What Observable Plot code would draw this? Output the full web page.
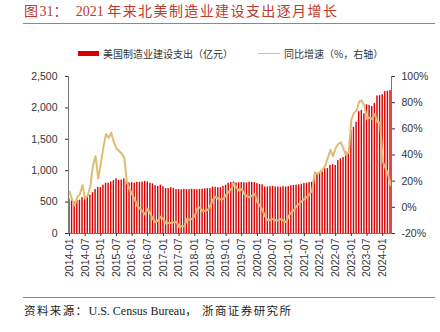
<!DOCTYPE html>
<html><head><meta charset="utf-8">
<script src="https://cdn.jsdelivr.net/npm/d3@7"></script>
<script src="https://cdn.jsdelivr.net/npm/@observablehq/plot@0.6"></script>
<style>
body{margin:0;width:440px;height:332px;position:relative;background:#fff;overflow:hidden;font-family:"Liberation Sans",Arial,sans-serif;}
#title{position:absolute;left:24px;top:1px;font-size:14px;line-height:18px;color:#c0392b;font-family:"Liberation Serif","Noto Sans CJK SC",serif;white-space:nowrap;}
.cjk{font-family:"Noto Sans CJK SC",sans-serif;letter-spacing:1.4px;}
.rule{position:absolute;left:23px;width:412px;height:0;border-top:1.5px solid #e06666;}
#legend{position:absolute;top:46px;left:0;width:440px;height:16px;font-family:"Noto Sans CJK SC",sans-serif;font-size:10px;color:#333;}
#legend .sw{position:absolute;}
#legend .tx{position:absolute;top:0;line-height:15px;white-space:nowrap;}
#chart{position:absolute;left:0;top:60px;}
#caption{position:absolute;left:24px;top:302px;font-size:12px;line-height:16px;color:#222;font-family:"Liberation Serif","Noto Sans CJK SC",serif;white-space:nowrap;}
#caption .c{font-family:"Noto Sans CJK SC",sans-serif;font-size:11.5px;letter-spacing:1.4px;}
</style></head>
<body>
<div id="title"><span class="cjk">图</span>31<span class="cjk">：</span>&nbsp;&nbsp;2021 <span class="cjk">年来北美制造业建设支出逐月增长</span></div>
<div class="rule" style="top:23px"></div>
<div id="legend">
  <div class="sw" style="left:78px;top:5px;width:21px;height:5px;background:#d40000"></div>
  <div class="tx" id="lg1" style="left:103px"></div>
  <div class="sw" style="left:258px;top:7px;width:22px;height:0;border-top:1.8px solid #e2bf78"></div>
  <div class="tx" id="lg2" style="left:284px"></div>
</div>
<div id="chart"></div>
<div class="rule" style="top:297px"></div>
<div id="caption"><span class="c">资料来源：</span>U.S. Census Bureau<span class="c">，&nbsp;浙商证券研究所</span></div>
<script>
const seriesNames = ["美国制造业建设支出（亿元）", "同比增速（%，右轴）"];
const startYear = 2014;
const spending = [
  550,520,500,525,530,570,575,590,610,650,700,735,
  730,770,800,800,820,840,870,845,850,870,830,805,
  810,800,815,815,820,830,820,800,790,760,750,770,
  745,715,715,730,720,700,700,695,705,700,700,705,
  700,698,700,705,710,714,715,740,735,730,730,750,
  770,800,810,818,805,808,810,808,805,818,815,810,
  795,780,775,740,740,745,750,740,740,735,745,740,
  745,760,765,770,775,785,795,800,810,815,870,950,
  965,980,1030,1035,1085,1095,1085,1160,1190,1210,1300,1280,
  1640,1690,1770,1940,1960,1905,2050,2040,2020,2070,2190,2195,
  2210,2260,2265,2275
];
const yoy = [
  12,6,1.5,8,10,17,6.5,9,16,32,39,22,
  33,46,56,53,57,50,45,43,41,38,19,14,
  10,6,1,-1,-3,-5.5,-1,-5,-9,-11.5,-10,-7,
  -9,-12.5,-12,-12,-11.5,-11,-15,-14.5,-14.5,-9,-9.5,-8.8,
  -6.5,-1,0,-3,-2.5,-2,1.4,6,8,6.5,6,6.5,
  9.5,12,14,18,15,12.8,14,10,8.5,7.7,9,10.3,
  4,1,-2.5,-7,-10,-9.5,-8.8,-10,-10,-9,-10,-11.4,
  -6.3,-4,-2,1,2.7,4.6,6.5,8,10,13,26.8,25.6,
  27,29,32,38,44,39,45.4,48.5,49.7,44.6,40,42,
  67,72,74,80.9,81.5,77.7,67.5,68.7,67.5,71.3,65,65,
  35,30.6,25.6,17
];
const xTickLabels = ["2014-01","2014-07","2015-01","2015-07","2016-01","2016-07","2017-01","2017-07","2018-01","2018-07","2019-01","2019-07","2020-01","2020-07","2021-01","2021-07","2022-01","2022-07","2023-01","2023-07","2024-01"];
const leftTicks = [0,500,1000,1500,2000,2500];
const rightTicks = [-20,0,20,40,60,80,100];

document.getElementById("lg1").textContent = seriesNames[0];
document.getElementById("lg2").textContent = seriesNames[1];

const months = spending.map((_, i) => {
  const y = startYear + Math.floor(i / 12), m = (i % 12) + 1;
  return `${y}-${String(m).padStart(2, "0")}`;
});
const data = months.map((m, i) => ({month: m, spend: spending[i], yoy: yoy[i]}));

const leftDomain = [leftTicks[0], leftTicks[leftTicks.length - 1]];
const rightDomain = [rightTicks[0], rightTicks[rightTicks.length - 1]];
const toLeft = p => leftDomain[0] + (p - rightDomain[0]) / (rightDomain[1] - rightDomain[0]) * (leftDomain[1] - leftDomain[0]);
const rightLabel = new Map(rightTicks.map(p => [toLeft(p), p + "%"]));

const chart = Plot.plot({
  width: 440, height: 235,
  marginLeft: 68, marginRight: 49, marginTop: 16, marginBottom: 62,
  x: {type: "band", domain: months, padding: 0.45, paddingOuter: 0.1, round: false, axis: null},
  y: {domain: leftDomain, axis: null},
  style: {fontFamily: "'Liberation Sans', Arial, sans-serif", fontSize: "10px", color: "#333", background: "transparent"},
  marks: [
    Plot.barY(data, {x: "month", y: "spend", fill: "#d80000"}),
    Plot.lineY(data, {x: "month", y: d => toLeft(d.yoy), stroke: "#e0bc72", strokeWidth: 2}),
    Plot.frame({anchor: "left", stroke: "#777"}),
    Plot.frame({anchor: "right", stroke: "#777"}),
    Plot.frame({anchor: "bottom", stroke: "#777"}),
    Plot.axisY({anchor: "left", ticks: leftTicks, tickFormat: d3.format(","), tickSize: 3, tickPadding: 8, label: null, fontSize: 10.5}),
    Plot.axisY({anchor: "right", ticks: rightTicks.map(toLeft), tickFormat: v => rightLabel.get(v), tickSize: 3, tickPadding: 7, label: null, fontSize: 10.5}),
    Plot.axisX({ticks: xTickLabels, tickRotate: -90, tickSize: 3, tickPadding: 2, label: null, fontSize: 10.5})
  ]
});
document.getElementById("chart").appendChild(chart);
</script>
</body></html>
